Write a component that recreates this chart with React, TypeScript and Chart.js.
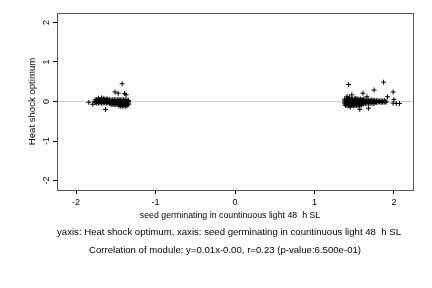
import { useEffect, useRef } from "react";
import { Chart, registerables } from "chart.js";

Chart.register(...registerables);

const FONT = "'Liberation Sans', Arial, Helvetica, sans-serif";

const xTitle = "seed germinating in countinuous light 48  h SL";
const yTitle = "Heat shock optimum";
const captionLines = [
  "yaxis: Heat shock optimum, xaxis: seed germinating in countinuous light 48  h SL",
  "Correlation of module: y=0.01x-0.00, r=0.23 (p-value:6.500e-01)",
];

const axisMin = -2.24;
const axisMax = 2.24;

// left cluster [x, y] (seed germinating ~ -1.84 .. -1.34)
const leftPoints: number[][] = [
  [-1.42, 0.45], [-1.51, 0.24], [-1.47, 0.21], [-1.39, 0.20], [-1.37, 0.17], [-1.63, -0.20],
  [-1.84, -0.02], [-1.79, -0.07], [-1.72, 0.08], [-1.68, 0.09], [-1.65, 0.08], [-1.61, 0.07],
  [-1.76, 0.04], [-1.74, 0.05], [-1.72, 0.04], [-1.70, 0.05], [-1.68, 0.04], [-1.66, 0.05],
  [-1.64, 0.04], [-1.62, 0.05], [-1.60, 0.04], [-1.58, 0.05], [-1.56, 0.04], [-1.54, 0.04],
  [-1.52, 0.05], [-1.50, 0.04], [-1.48, 0.04], [-1.46, 0.05], [-1.44, 0.04], [-1.42, 0.04],
  [-1.40, 0.05], [-1.38, 0.04], [-1.36, 0.04], [-1.34, 0.03],
  [-1.76, 0.00], [-1.74, 0.01], [-1.72, 0.00], [-1.70, 0.01], [-1.68, 0.00], [-1.66, 0.00],
  [-1.64, 0.01], [-1.62, 0.00], [-1.60, 0.00], [-1.58, 0.01], [-1.56, 0.00], [-1.54, 0.00],
  [-1.52, 0.01], [-1.50, 0.00], [-1.48, 0.00], [-1.46, 0.01], [-1.44, 0.00], [-1.42, 0.00],
  [-1.40, 0.01], [-1.38, 0.00], [-1.36, 0.00], [-1.34, 0.00],
  [-1.76, -0.03], [-1.74, -0.04], [-1.72, -0.04], [-1.70, -0.03], [-1.68, -0.04], [-1.66, -0.04],
  [-1.64, -0.03], [-1.62, -0.04], [-1.60, -0.04], [-1.58, -0.04], [-1.56, -0.04], [-1.54, -0.03],
  [-1.52, -0.04], [-1.50, -0.04], [-1.48, -0.04], [-1.46, -0.03], [-1.44, -0.04], [-1.42, -0.04],
  [-1.40, -0.04], [-1.38, -0.04], [-1.36, -0.03], [-1.34, -0.04],
  [-1.56, -0.08], [-1.54, -0.07], [-1.52, -0.08], [-1.50, -0.08], [-1.48, -0.07], [-1.46, -0.08],
  [-1.44, -0.08], [-1.42, -0.08], [-1.40, -0.07], [-1.38, -0.08], [-1.36, -0.08], [-1.34, -0.07],
  [-1.46, -0.11], [-1.44, -0.11], [-1.42, -0.12], [-1.40, -0.11], [-1.38, -0.12], [-1.36, -0.11],
];

// right cluster [x, y] (seed germinating ~ 1.37 .. 2.07)
const rightPoints: number[][] = [
  [1.43, 0.43], [1.87, 0.49], [1.99, 0.24], [1.75, 0.29], [1.61, 0.21], [1.92, 0.12],
  [2.00, 0.05], [1.41, 0.13], [1.47, 0.17], [1.66, 0.12], [1.57, -0.20], [1.68, -0.17],
  [1.45, -0.14], [1.99, -0.04], [2.03, -0.05], [2.07, -0.05], [1.44, 0.10], [1.52, 0.08],
  [1.38, 0.06], [1.40, 0.06], [1.42, 0.07], [1.44, 0.06], [1.46, 0.06], [1.48, 0.06], [1.50, 0.07],
  [1.52, 0.06], [1.54, 0.06], [1.56, 0.06], [1.58, 0.06], [1.60, 0.05], [1.62, 0.06],
  [1.38, 0.02], [1.40, 0.02], [1.42, 0.02], [1.44, 0.03], [1.46, 0.02], [1.48, 0.02], [1.50, 0.02],
  [1.52, 0.02], [1.54, 0.03], [1.56, 0.02], [1.58, 0.02], [1.60, 0.02], [1.62, 0.02],
  [1.38, -0.02], [1.40, -0.02], [1.42, -0.02], [1.44, -0.02], [1.46, -0.03], [1.48, -0.02], [1.50, -0.02],
  [1.52, -0.02], [1.54, -0.02], [1.56, -0.02], [1.58, -0.03], [1.60, -0.02], [1.62, -0.02],
  [1.38, -0.06], [1.40, -0.06], [1.42, -0.06], [1.44, -0.07], [1.46, -0.06], [1.48, -0.06], [1.50, -0.06],
  [1.52, -0.06], [1.54, -0.06], [1.56, -0.07], [1.58, -0.06], [1.60, -0.06], [1.62, -0.06],
  [1.39, -0.10], [1.41, -0.10], [1.43, -0.11], [1.45, -0.10], [1.47, -0.10], [1.49, -0.11], [1.51, -0.10],
  [1.53, -0.10], [1.55, -0.11], [1.57, -0.10], [1.59, -0.09],
  [1.64, 0.03], [1.66, 0.04], [1.68, 0.03], [1.70, 0.03], [1.72, 0.04], [1.74, 0.03], [1.76, 0.03],
  [1.64, -0.01], [1.66, -0.01], [1.68, 0.00], [1.70, -0.01], [1.72, -0.01], [1.74, 0.00], [1.76, -0.01],
  [1.64, -0.05], [1.66, -0.05], [1.68, -0.04], [1.70, -0.05], [1.72, -0.04], [1.74, -0.05], [1.76, -0.04],
  [1.78, 0.02], [1.80, 0.02], [1.82, 0.01], [1.84, 0.02], [1.86, 0.01], [1.88, 0.02], [1.90, 0.01],
  [1.78, -0.02], [1.80, -0.02], [1.82, -0.01], [1.84, -0.02], [1.86, -0.02], [1.88, -0.01], [1.90, -0.02],
];

function toPoints(pairs: number[][]) {
  return pairs.map((p) => ({ x: p[0], y: p[1] }));
}

const boxAndCaption = {
  id: "boxAndCaption",
  afterDraw(chart: any) {
    const { ctx, chartArea } = chart;
    ctx.save();
    ctx.strokeStyle = "#555555";
    ctx.lineWidth = 1;
    ctx.strokeRect(
      Math.round(chartArea.left) + 0.5,
      Math.round(chartArea.top) + 0.5,
      Math.round(chartArea.right - chartArea.left),
      Math.round(chartArea.bottom - chartArea.top)
    );
    ctx.fillStyle = "#000";
    ctx.textAlign = "center";
    ctx.textBaseline = "middle";
    ctx.font = `8.8px ${FONT}`;
    ctx.fillText(xTitle, 230, 216);
    ctx.font = `9.6px ${FONT}`;
    ctx.fillText(captionLines[0], 229, 232);
    ctx.fillText(captionLines[1], 225, 250);
    ctx.restore();
  },
};

export default function App() {
  const ref = useRef<HTMLCanvasElement>(null);
  useEffect(() => {
    document.body.style.margin = "0";
    const pointStyle = {
      pointStyle: "cross" as const,
      radius: 2.5,
      borderColor: "#000",
      backgroundColor: "#000",
      borderWidth: 1,
    };
    const chart = new Chart(ref.current!, {
      type: "scatter",
      data: {
        datasets: [
          { data: toPoints(leftPoints), ...pointStyle },
          { data: toPoints(rightPoints), ...pointStyle },
        ],
      },
      options: {
        responsive: false,
        animation: false,
        devicePixelRatio: 1,
        layout: { padding: { top: 13, right: 19, bottom: 66, left: 0 } },
        plugins: {
          legend: { display: false },
          tooltip: { enabled: false },
          title: { display: false },
        },
        scales: {
          x: {
            type: "linear",
            min: axisMin,
            max: axisMax,
            afterFit: (s: any) => {
              s.height = 32;
            },
            border: { display: false },
            grid: {
              drawOnChartArea: false,
              drawTicks: true,
              tickLength: 4,
              tickColor: "#000",
              color: "#000",
            },
            ticks: {
              stepSize: 1,
              includeBounds: false,
              maxRotation: 0,
              padding: 3,
              color: "#000",
              font: { size: 9, family: FONT },
            },
            title: { display: false },
          },
          y: {
            type: "linear",
            min: axisMin,
            max: axisMax,
            afterFit: (s: any) => {
              s.width = 57;
            },
            border: { display: false },
            grid: {
              drawOnChartArea: true,
              drawTicks: true,
              tickLength: 4,
              tickColor: "#000",
              color: (c: any) => (c.tick && c.tick.value === 0 ? "#cccccc" : "rgba(0,0,0,0)"),
            },
            ticks: {
              stepSize: 1,
              includeBounds: false,
              minRotation: 90,
              maxRotation: 90,
              crossAlign: "center",
              padding: 2,
              color: "#000",
              font: { size: 9, family: FONT },
            },
            title: {
              display: true,
              text: yTitle,
              color: "#000",
              font: { size: 9.6, family: FONT },
              padding: { top: 27, bottom: 0 },
            },
          },
        },
      },
      plugins: [boxAndCaption],
    });
    return () => chart.destroy();
  }, []);
  return <canvas ref={ref} width={432} height={288} style={{ display: "block" }} />;
}
